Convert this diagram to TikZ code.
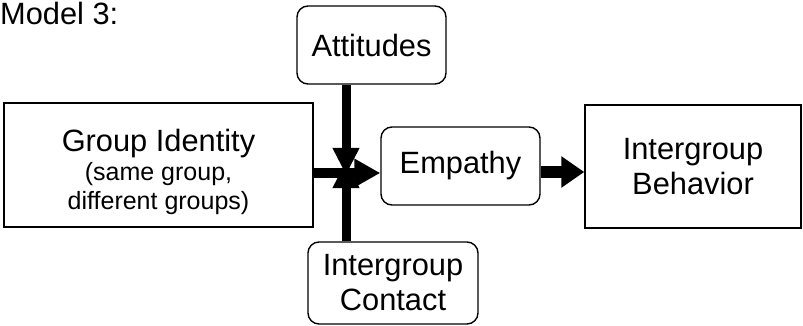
\documentclass[tikz,border=0pt]{standalone}
\usepackage{fontspec}
\setmainfont{Liberation Sans}
\usetikzlibrary{arrows.meta}
\begin{document}
\begin{tikzpicture}[x=1pt,y=-1pt,
  box/.style={draw=black, line width=1.4pt, inner sep=0pt, align=center,
    font=\fontsize{30.8}{35}\selectfont},
  rbox/.style={box, rounded corners=11pt},
  fatarrow/.style={draw=black, line width=#1},
]
\useasboundingbox (0,0) rectangle (803,326);
\node[anchor=base west, inner sep=0pt, font=\fontsize{30.8}{35}\selectfont] (title) at (0,25) {Model 3:};
\node[rbox, minimum width=149pt, minimum height=78pt] (att) at (371.5,45) {Attitudes};
\node[box, minimum width=309pt, minimum height=124pt, font=\fontsize{25}{29}\selectfont] (grp) at (158.5,165)
  {\rule{0pt}{37pt}{\fontsize{30.8}{29}\selectfont Group Identity}\\(same group,\\different groups)};
\node[rbox, minimum width=159pt, minimum height=78pt] (emp) at (460.5,166) {Empathy};
\node[box, minimum width=216pt, minimum height=123pt] (beh) at (693,166.5) {Intergroup\\Behavior};
\node[rbox, minimum width=170pt, minimum height=82pt] (con) at (393,283) {Intergroup\\Contact};
\coordinate (cross) at (346,173);
\coordinate (tipT) at (346,175);
\coordinate (tipB) at (346,161);
\coordinate (eb) at (562,172);
\draw[fatarrow=9pt, -{Triangle[length=27pt,width=25pt]}] (att.south -| cross) -- (tipT);
\draw[fatarrow=9pt, -{Triangle[length=27pt,width=25pt]}] (con.north -| cross) -- (tipB);
\draw[fatarrow=10pt, -{Triangle[length=26pt,width=27pt]}] (grp.east |- cross) -- (emp.west |- cross);
\draw[fatarrow=12pt, -{Triangle[length=23pt,width=30pt]}] (emp.east |- eb) -- (beh.west |- eb);
\end{tikzpicture}
\end{document}
